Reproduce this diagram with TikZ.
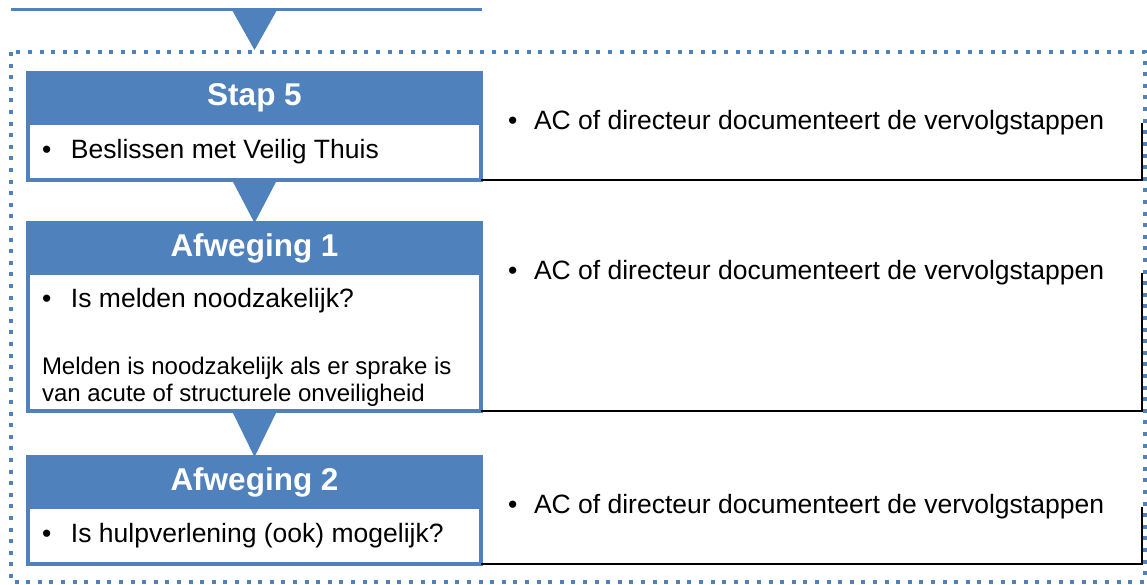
\documentclass[tikz,border=0pt]{standalone}
\usepackage{fontspec}
\setmainfont{Liberation Sans}
\usetikzlibrary{positioning}
\definecolor{stepblue}{RGB}{79,129,189}
\newcommand{\bul}{\makebox[29pt][l]{\textbullet}}
\newcommand{\rbul}{\makebox[26pt][l]{\textbullet}}

\begin{document}
\begin{tikzpicture}[x=1pt, y=-1pt, outer sep=0pt,
  head/.style={fill=stepblue, draw=stepblue, line width=4pt, minimum width=453pt,
    minimum height=50pt, inner sep=0pt, text=white,
    font=\fontsize{31.5}{36}\selectfont\bfseries},
  body/.style={draw=stepblue, line width=4pt, minimum width=453pt, text width=425pt,
    inner xsep=14pt, inner ysep=0pt, align=flush left, font=\fontsize{26.5}{32}\selectfont},
  rtext/.style={anchor=west, inner sep=0pt, font=\fontsize{26.5}{32}\selectfont},
  cellline/.style={line width=2pt},
  frame/.style={draw=stepblue, line width=4pt, dash pattern=on 4pt off 7.6pt}]
\useasboundingbox (0,0) rectangle (1147,585);

% left column
\node[head] (s5h) at (254.5,98) {Stap 5};
\node[body, minimum height=57pt, below=0pt of s5h] (s5b) {\bul Beslissen met Veilig Thuis};
\node[head] (a1h) at (254.5,248) {Afweging 1};
\node[body, minimum height=138pt, below=0pt of a1h] (a1b) {\rule{0pt}{30pt}\bul Is melden noodzakelijk?\par\vspace{40pt}%
  {\fontsize{24}{27}\selectfont\raggedright Melden is noodzakelijk als er sprake is\\van acute of structurele onveiligheid\par}};
\node[head] (a2h) at (254.5,482) {Afweging 2};
\node[body, minimum height=57pt, below=0pt of a2h] (a2b) {\bul Is hulpverlening (ook) mogelijk?};

% right column
\node[rtext] (r1) at ([xshift=27pt]s5h.south east) {\rbul AC of directeur documenteert de vervolgstappen};
\node[rtext] (r2) at ([xshift=27pt]a1h.south east) {\rbul AC of directeur documenteert de vervolgstappen};
\node[rtext] (r3) at ([xshift=27pt]a2h.south east) {\rbul AC of directeur documenteert de vervolgstappen};
\coordinate (rhs) at (1142,0);
\foreach \b/\r in {s5b/r1, a1b/r2, a2b/r3}
  \draw[cellline] (\b.south east) -| (\r.west -| rhs);

% arrows between the steps
\coordinate (tl) at (11,10);
\coordinate (tr) at (482,10);
\coordinate (tm) at (254.5,10);
\coordinate (tip) at (254.5,50);
\draw[stepblue, line width=3pt] (tl) -- (tr);
\fill[stepblue] ([xshift=-22.5pt]tm) -- ([xshift=22.5pt]tm) -- (tip) -- cycle;
\foreach \up/\dn in {s5b/a1h, a1b/a2h}
  \fill[stepblue] ([xshift=-22.5pt]\up.south) -- ([xshift=22.5pt]\up.south) -- (\dn.north) -- cycle;

% dotted frame
\draw[frame] (11,52) rectangle (1144.5,582);
\end{tikzpicture}
\end{document}
